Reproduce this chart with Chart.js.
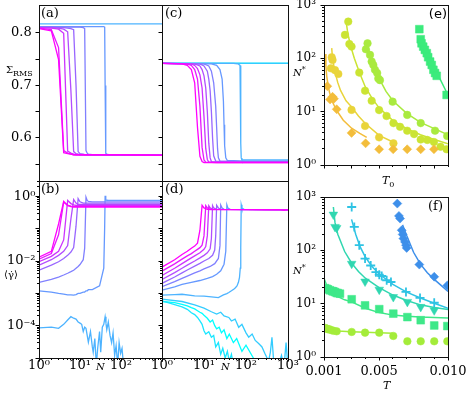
<!DOCTYPE html>
<html lang="en">
<head>
<meta charset="UTF-8">
<title>Sigma RMS / shear rate / N*</title>
<script src="https://cdn.jsdelivr.net/npm/chart.js@4.4.1/dist/chart.umd.min.js"></script>
<style>
	body { margin: 0; background: #fff; }
	#fig { position: relative; width: 468px; height: 395px; overflow: hidden; font-family: "DejaVu Serif", serif; color: #000; }
	#fig canvas { position: absolute; }
	.lbl { position: absolute; font-size: 13px; line-height: 1; white-space: nowrap; }
	.lbl sub { font-size: 8px; vertical-align: -3px; }
	.lbl sup { font-size: 8px; vertical-align: 4px; }
	.sm { font-size: 10px; }
</style>
</head>
<body>
<div id="fig">
	<canvas id="pa"></canvas>
	<canvas id="pb"></canvas>
	<canvas id="pc"></canvas>
	<canvas id="pd"></canvas>
	<canvas id="pe"></canvas>
	<canvas id="pf"></canvas>

	<div class="lbl" style="left:41px;top:6px">(a)</div>
	<div class="lbl" style="left:41px;top:182px">(b)</div>
	<div class="lbl" style="left:165px;top:6px">(c)</div>
	<div class="lbl" style="left:165px;top:182px">(d)</div>
	<div class="lbl" style="right:21px;top:7px;font-family:'DejaVu Sans',sans-serif">(e)</div>
	<div class="lbl" style="right:25px;top:199px">(f)</div>

	<div class="lbl sm" style="left:6px;top:65px">Σ<sub>RMS</sub></div>
	<div class="lbl sm" style="left:4px;top:270px">⟨γ̇⟩</div>
	<div class="lbl sm" style="left:96px;top:362px"><i>N</i></div>
	<div class="lbl sm" style="left:221px;top:362px"><i>N</i></div>
	<div class="lbl sm" style="left:293px;top:66px"><i>N</i><sup>*</sup></div>
	<div class="lbl sm" style="left:293px;top:264px"><i>N</i><sup>*</sup></div>
	<div class="lbl" style="left:382px;top:175px;font-size:11px"><i>T</i><sub>0</sub></div>
	<div class="lbl" style="left:383px;top:380px;font-size:11px"><i>T</i></div>
</div>

<script>
// ---------- (a) and (b): one N grid for the curves that jump ----------
const nAB = [1,2,3,4,5,6,7,8,9,10,12,13,14,15,16,20,30,38,40,41,42,43,45,50,100,1000];
const shadeAB = [1.0, 0.9, 0.8, 0.7, 0.6, 0.5, 0.4, 0.3];

const sigmaA = [
	[0.808,0.804,0.749,0.572,0.570,0.569,0.568,0.568,0.568,0.568,0.568,0.568,0.568,0.568,0.568,0.568,0.568,0.568,0.568,0.568,0.568,0.568,0.568,0.568,0.568,0.567],
	[0.809,0.806,0.772,0.576,0.571,0.569,0.568,0.568,0.568,0.568,0.568,0.568,0.568,0.568,0.568,0.568,0.568,0.568,0.568,0.568,0.568,0.568,0.568,0.568,0.568,0.567],
	[0.810,0.809,0.807,0.799,0.575,0.571,0.569,0.568,0.568,0.568,0.568,0.568,0.568,0.568,0.568,0.568,0.568,0.568,0.568,0.568,0.568,0.568,0.568,0.568,0.568,0.567],
	[0.810,0.810,0.809,0.807,0.802,0.690,0.574,0.570,0.569,0.568,0.568,0.568,0.568,0.568,0.568,0.568,0.568,0.568,0.568,0.568,0.568,0.568,0.568,0.568,0.568,0.567],
	[0.811,0.811,0.810,0.810,0.809,0.808,0.806,0.700,0.574,0.570,0.569,0.568,0.568,0.568,0.568,0.568,0.568,0.568,0.568,0.568,0.568,0.568,0.568,0.568,0.568,0.567],
	[0.811,0.811,0.811,0.811,0.811,0.811,0.811,0.811,0.811,0.811,0.810,0.808,0.576,0.571,0.569,0.568,0.568,0.568,0.568,0.568,0.568,0.568,0.568,0.568,0.568,0.567],
	[0.812,0.812,0.812,0.812,0.812,0.812,0.812,0.812,0.812,0.812,0.812,0.812,0.812,0.812,0.812,0.812,0.812,0.812,0.811,0.700,0.580,0.571,0.569,0.568,0.568,0.567],
	[0.817,0.817,0.817,0.817,0.817,0.817,0.817,0.817,0.817,0.817,0.817,0.817,0.817,0.817,0.817,0.817,0.817,0.817,0.817,0.817,0.817,0.817,0.817,0.817,0.817,0.817]
];

const rateB = [
	[0.0132,0.020,0.14,0.70,0.52,0.48,0.47,0.47,0.47,0.47,0.47,0.47,0.47,0.47,0.47,0.47,0.47,0.47,0.47,0.47,0.47,0.47,0.47,0.47,0.47,0.47],
	[0.0115,0.017,0.065,0.66,0.54,0.50,0.49,0.49,0.49,0.49,0.49,0.49,0.49,0.49,0.49,0.49,0.49,0.49,0.49,0.49,0.49,0.49,0.49,0.49,0.49,0.49],
	[0.0095,0.014,0.020,0.045,0.75,0.60,0.55,0.53,0.53,0.53,0.53,0.53,0.53,0.53,0.53,0.53,0.53,0.53,0.53,0.53,0.53,0.53,0.53,0.53,0.53,0.53],
	[0.0075,0.011,0.015,0.020,0.030,0.20,0.80,0.62,0.57,0.57,0.57,0.57,0.57,0.57,0.57,0.57,0.57,0.57,0.57,0.57,0.57,0.57,0.57,0.57,0.57,0.57],
	[0.0052,0.0075,0.0095,0.012,0.015,0.019,0.026,0.12,0.85,0.68,0.62,0.62,0.62,0.62,0.62,0.62,0.62,0.62,0.62,0.62,0.62,0.62,0.62,0.62,0.62,0.62],
	[0.0022,0.0027,0.0032,0.0037,0.0042,0.0047,0.0052,0.0060,0.0068,0.0078,0.011,0.025,0.95,0.75,0.70,0.68,0.68,0.68,0.68,0.68,0.68,0.68,0.68,0.68,0.68,0.68],
	[0.0012,0.0011,0.0010,0.00095,0.0009,0.0009,0.00088,0.00092,0.0010,0.0010,0.0011,0.0011,0.0012,0.0012,0.0013,0.0013,0.0017,0.006,0.12,1.05,0.85,0.78,0.76,0.75,0.75,0.75]
];
// the lightest curve of (b) never jumps, it stays noisy near 1e-4
const nB8 = [1,2,3,4,5,6,7,8,9,10,11,12,13,14,16,18,20,21,23,25,27,30,32,35,38,41,43,45,49,54,59,64,70,76,83,90,98,106,115,125];
const rateB8 = [8.5e-5,9e-5,8.3e-5,1.1e-4,1.5e-4,1.9e-4,1.7e-4,1.6e-4,1.3e-4,1.2e-4,1.1e-4,6.6e-5,9e-5,8.3e-5,3.1e-5,6.6e-5,2.2e-5,1.5e-5,4e-5,6e-6,
	2e-5,6.6e-5,1.5e-5,9e-5,1.1e-4,1.9e-4,1.2e-4,7.5e-5,1.3e-4,5e-5,3e-5,6e-5,1.2e-5,2.4e-5,6e-6,3e-5,1.4e-5,2e-5,6e-6,4e-6];

// ---------- (c) and (d): eleven curves, magenta to cyan ----------
const shadeCD = [1.0, 0.9, 0.8, 0.7, 0.6, 0.5, 0.4, 0.3, 0.2, 0.1, 0.0];
const nC = [
	[1,3,4,5,6,7,8,9,10,20,100,1000],
	[1,4,5,6,7,8,9,10,11,20,100,1000],
	[1,5,6,7,8,9,10,11,12,13,100,1000],
	[1,6,8,9,10,11,12,13,14,15,100,1000],
	[1,8,10,12,13,14,15,16,17,19,100,1000],
	[1,10,13,15,17,19,20,21,22,24,100,1000],
	[1,15,20,24,27,29,30,31,33,36,100,1000],
	[1,50,65,72,74,75,76,77,80,90,100,1000],
	[1,1000], [1,1000], [1,1000]
];
const sigmaC = [
	[0.742,0.741,0.738,0.730,0.705,0.620,0.565,0.555,0.553,0.553,0.553,0.553],
	[0.742,0.741,0.738,0.730,0.712,0.660,0.582,0.558,0.554,0.553,0.553,0.553],
	[0.742,0.741,0.738,0.732,0.720,0.695,0.640,0.580,0.559,0.554,0.554,0.554],
	[0.742,0.741,0.737,0.730,0.718,0.695,0.650,0.590,0.562,0.555,0.554,0.554],
	[0.742,0.741,0.737,0.727,0.712,0.690,0.650,0.600,0.566,0.556,0.555,0.555],
	[0.742,0.741,0.737,0.727,0.705,0.660,0.620,0.580,0.562,0.556,0.555,0.555],
	[0.742,0.741,0.738,0.730,0.712,0.670,0.625,0.585,0.562,0.557,0.556,0.556],
	[0.742,0.742,0.741,0.738,0.720,0.650,0.590,0.562,0.558,0.558,0.558,0.558],
	[0.742,0.742], [0.742,0.742], [0.742,0.742]
];
const nD = [
	[1,2,3,4,5,6,7,8,9,10,12,15,30,100,300,600,800,1000],
	[1,2,3,4,5,6,7,8,9,10,11,12,14,1000],
	[1,2,3,4,5,6,8,10,11,12,13,14,16,1000],
	[1,2,3,4,6,8,10,12,14,15,16,17,20,1000],
	[1,2,3,4,6,8,10,13,16,18,19,20,22,25,1000],
	[1,2,3,4,6,8,10,14,18,22,24,25,27,30,1000],
	[1,2,3,5,8,12,16,20,25,30,33,35,37,42,1000],
	[1,2,3,6,10,15,22,29,35,39,45,51,56,61,66,70,73,75,77,80,90,1000],
	[1,3,6,10,15,20,25,30,39,45,55,67,80,100,116,140,166,200,240,280,345,380,415,450,500,600,700,800,900,1000],
	[1,2,3,4,5,6,7,8,9,10,11,13,15,17,19,22,25,28,32,36,40,45,50,60],
	[1,2,3,4,5,6,7,8,9,10,12,14,16,18,20,23,26,30,35,40,50,60,80,100,150,200]
];
const rateD = [
	[0.0065,0.011,0.016,0.020,0.025,0.029,0.036,0.09,0.53,0.44,0.40,0.39,0.39,0.39,0.385,0.39,0.37,0.385],
	[0.0049,0.0082,0.0115,0.0145,0.017,0.020,0.023,0.026,0.031,0.06,0.52,0.44,0.40,0.39],
	[0.0036,0.0060,0.0083,0.0105,0.0125,0.0145,0.018,0.023,0.028,0.06,0.51,0.44,0.40,0.39],
	[0.0027,0.0044,0.0060,0.0075,0.010,0.0125,0.015,0.018,0.024,0.05,0.52,0.44,0.40,0.39],
	[0.00205,0.0032,0.0043,0.0053,0.0070,0.0085,0.010,0.012,0.015,0.022,0.06,0.53,0.44,0.40,0.39],
	[0.0016,0.0023,0.0029,0.0034,0.0043,0.0050,0.0057,0.0068,0.0083,0.012,0.03,0.54,0.44,0.40,0.39],
	[0.00125,0.0016,0.0019,0.0022,0.0025,0.0029,0.0033,0.0039,0.0050,0.008,0.02,0.55,0.44,0.40,0.39],
	[0.00088,0.00092,0.00094,0.00084,0.00082,0.00078,0.00074,0.0009,0.00098,0.00106,0.0012,0.00135,0.0015,0.0017,0.0022,0.0031,0.006,0.026,0.55,0.44,0.40,0.39],
	[6.6e-4,5.6e-4,4.4e-4,3.5e-4,2.7e-4,2.3e-4,2.6e-4,2.0e-4,1.8e-4,1.4e-4,1.6e-4,8.9e-5,1.1e-4,6e-5,4.4e-5,5.5e-5,3.5e-5,2.8e-5,2.2e-5,1.4e-5,8e-6,1.5e-5,4.4e-5,1e-5,8e-6,6e-6,1.2e-5,5e-6,3e-5,5e-6],
	[5.9e-4,4.5e-4,3.8e-4,3.2e-4,2.5e-4,2.2e-4,1.8e-4,1.4e-4,1.1e-4,7e-5,5.5e-5,6.5e-5,4.4e-5,5e-5,2.2e-5,3e-5,1.3e-5,2e-5,1e-5,1.6e-5,8e-6,1.3e-5,6e-6,5e-6],
	[5.6e-4,5.2e-4,4.6e-4,4.1e-4,3.6e-4,3.3e-4,2.9e-4,2.6e-4,2.4e-4,2.1e-4,1.7e-4,1.3e-4,1.5e-4,1.0e-4,8e-5,9e-5,6e-5,7.5e-5,4e-5,5.5e-5,3e-5,4e-5,1.6e-5,2.5e-5,1e-5,5e-6]
];

// ---------- (e): N* against T0 ----------
const eDiaT0 = [0.012,0.022,0.031,0.036,0.046,0.100,0.151,0.200,0.251,0.302,0.351,0.399];
const eDiaN  = [30,17,19,17.5,11.1,4.0,2.55,1.97,1.97,1.97,1.97,1.97];
const eDiaFitT0 = [0.004,0.007,0.01,0.015,0.02,0.03,0.046,0.07,0.1,0.13,0.155];
const eDiaFitN  = [120,70,46,31,23,15.5,10.5,6.9,4.9,3.9,3.3];
const eYelT0 = [0.028,0.031,0.025,0.040,0.052,0.100,0.149,0.200,0.252];
const eYelN  = [105,93,65,60,51,10.8,5.4,3.3,2.55];
const eYelFitT0 = [0.028,0.03,0.035,0.04,0.05,0.06,0.08,0.1,0.125,0.15,0.2,0.25];
const eYelFitN  = [155,115,75,55,35,25,16,12.3,8.3,6.0,3.6,2.7];
const eLimT0 = [0.088,0.076,0.092,0.100,0.128,0.149,0.173,0.200,0.227,0.252,0.276,0.302,0.327,0.351,0.375,0.399,0.423,0.445];
const eLimN  = [488,275,186,166,54,24.7,16,10.7,8.3,6.1,5.2,4.4,3.8,3.0,2.95,2.7,2.2,1.97];
const eLimFitT0 = [0.08,0.085,0.09,0.1,0.11,0.13,0.15,0.175,0.2,0.25,0.3,0.35,0.4,0.45];
const eLimFitN  = [500,330,240,150,100,52,29,17.5,11.8,6.8,4.8,3.7,3.0,2.5];
const eGrnT0 = [0.158,0.152,0.167,0.173,0.179,0.185,0.193,0.197,0.203,0.249,0.302,0.351,0.403,0.447];
const eGrnN  = [191,148,116,87,75,61,53,42,39,15.4,8.7,6.1,4.4,3.5];
const eGrnFitT0 = [0.155,0.16,0.17,0.18,0.2,0.225,0.25,0.3,0.35,0.4,0.45];
const eGrnFitN  = [210,160,105,75,42,24,16,9.3,6.3,4.8,3.7];
const eSqT0 = [0.346,0.351,0.354,0.360,0.366,0.373,0.378,0.385,0.391,0.397,0.403,0.409,0.445];
const eSqN  = [352,228,191,166,144,125,105,87,75,61,53,47,20.6];
const eSqFitT0 = [0.348,0.36,0.37,0.38,0.39,0.4,0.42,0.44,0.45];
const eSqFitN  = [260,175,135,105,82,65,42,26,20];

// ---------- (f): N* against T ----------
const fDiaT = [0.00632,0.00644,0.00652,0.00664,0.00671,0.00676,0.00688,0.00695,0.0070,0.00792,0.0090,0.00995];
const fDiaN = [752,442,394,238,199,166,144,125,111,54,32,22];
const fDiaFitT = [0.0067,0.0068,0.007,0.0075,0.008,0.0085,0.009,0.0095,0.01];
const fDiaFitN = [300,260,190,92,55,38,28.5,22,17];
const fPlusT = [0.00301,0.0032,0.00356,0.00398,0.00439,0.00477,0.00501,0.00519,0.00555,0.00586,0.00695,0.00797,0.009];
const fPlusN = [650,275,125,70,52,39,35,33,27.5,25.5,16.6,12.8,10.4];
const fPlusFitT = [0.003,0.0033,0.0036,0.004,0.0045,0.005,0.006,0.007,0.008,0.009,0.01];
const fPlusFitN = [380,200,120,75,49,36,23,16.5,12.8,10.2,8.2];
const fTriT = [0.00168,0.0018,0.00192,0.00301,0.00398,0.00501,0.00603,0.00705,0.00802,0.009];
const fTriN = [468,275,263,56,26,18.3,13.3,10.8,8.7,7.5];
const fTriFitT = [0.00168,0.0018,0.002,0.0025,0.003,0.0035,0.004,0.005,0.006,0.007,0.008,0.009,0.01];
const fTriFitN = [650,330,200,95,58,40,30,20,14.5,11.5,9.5,8.5,7.8];
const fSqT = [0.00108,0.0012,0.0013,0.00144,0.0016,0.00168,0.0018,0.00192,0.002,0.00216,0.00301,0.00398,0.00501,0.00603,0.00705,0.00802,0.009,0.00995];
const fSqN = [19.5,19,18.5,17.8,17.2,17,16.5,15.9,15.8,15.4,12.1,9.3,7.9,6.5,5.6,4.9,3.9,3.8];
const fSqFitT = [0.001,0.0012,0.0015,0.002,0.0025,0.003,0.004,0.005,0.006,0.007,0.008,0.009,0.01];
const fSqFitN = [30,22,17,13.5,11.8,10.8,8.2,6.8,6.1,5.8,5.6,5.5,5.4];
const fPentT = [0.0011,0.0012,0.0013,0.0014,0.00156,0.0017,0.00192,0.00301,0.00398,0.00501,0.00603,0.00705,0.00802,0.009,0.00995];
const fPentN = [3.5,3.4,3.3,3.3,3.17,3.1,3.03,2.95,2.86,2.86,2.48,1.97,1.97,1.97,1.97];
const fPentFitT = [0.001,0.0015,0.002,0.003,0.004,0.005,0.006];
const fPentFitN = [3.7,3.25,3.08,2.97,2.9,2.85,2.8];

// ---------- helpers ----------
const cool = r => `rgb(${Math.round(255 * r)},${Math.round(255 * (1 - r))},255)`;
const pts = (xs, ys) => xs.map((x, i) => ({ x: x, y: ys[i] }));

function curve(xs, ys, color, w) {
	return { data: pts(xs, ys), showLine: true, borderColor: color, borderWidth: w || 1.3,
		pointRadius: 0, tension: 0, clip: 0 };
}
function marks(xs, ys, color, style, r, rot) {
	const hollow = style === 'cross';
	return { data: pts(xs, ys), showLine: false, pointStyle: style, pointRadius: r,
		pointRotation: rot || 0, backgroundColor: color, borderColor: color,
		pointBorderWidth: hollow ? 1.8 : 0.5, clip: 0 };
}

const serif13 = { family: 'DejaVu Serif', size: 13, lineHeight: 1 };
const serif12 = { family: 'DejaVu Serif', size: 12, lineHeight: 1 };
const SUP = { '-4': '10⁻⁴', '-2': '10⁻²', '0': '10⁰', '1': '10¹', '2': '10²', '3': '10³' };

function logTicks(lo, hi) {
	const out = [];
	for (let e = Math.floor(Math.log10(lo)); e <= Math.ceil(Math.log10(hi)); e++) {
		for (let m = 1; m < 10; m++) {
			const v = Number((m * Math.pow(10, e)).toPrecision(3));
			if (v >= lo * 0.999 && v <= hi * 1.001) out.push({ value: v, major: m === 1 });
		}
	}
	return out;
}

function tickGrid(side) {
	// minor ticks are drawn shorter with a dash pattern
	const minorDash = side === 'left' ? [0, 1.5, 2, 40] : [2, 40];
	return { drawOnChartArea: false, drawTicks: true, tickLength: 3.5, tickColor: '#000', tickWidth: 1,
		tickBorderDash: c => (c.tick && c.tick.major === false) ? minorDash : [] };
}

function logAxis(lo, hi, shown, font, pad, side) {
	return {
		type: 'logarithmic', min: lo, max: hi,
		afterBuildTicks: s => { s.ticks = logTicks(lo, hi); },
		border: { display: false },
		grid: tickGrid(side),
		ticks: { autoSkip: false, maxRotation: 0, minRotation: 0, padding: pad, font: font, color: '#000',
			callback: (v, i, t) => {
				if (!t[i].major) return '';
				const e = String(Math.round(Math.log10(v)));
				return shown.indexOf(e) >= 0 ? SUP[e] : '';
			} }
	};
}

function linAxis(lo, hi, tickVals, majors, labelFn, font, pad, side) {
	return {
		type: 'linear', min: lo, max: hi,
		afterBuildTicks: s => { s.ticks = tickVals.map(v => ({ value: v, major: majors(v) })); },
		border: { display: false },
		grid: tickGrid(side),
		ticks: { autoSkip: false, maxRotation: 0, minRotation: 0, padding: pad, font: font, color: '#000',
			callback: v => labelFn(v) }
	};
}

const hiddenLogX = {
	type: 'logarithmic', min: 1, max: 1000,
	border: { display: false }, grid: { display: false }, ticks: { display: false }
};

const frame = {
	id: 'frame',
	afterDatasetsDraw(chart) {
		const a = chart.chartArea, ctx = chart.ctx;
		ctx.save();
		ctx.strokeStyle = '#111';
		ctx.lineWidth = 1;
		ctx.strokeRect(a.left + 0.5, a.top + 0.5, a.right - a.left, a.bottom - a.top);
		ctx.restore();
	}
};

const M = { l: 42, t: 8, r: 24, b: 32 };
function panel(id, box, xScale, yScale, datasets) {
	const cv = document.getElementById(id);
	const w = box[2] - box[0], h = box[3] - box[1];
	cv.width = w + M.l + M.r;
	cv.height = h + M.t + M.b;
	cv.style.left = (box[0] - M.l) + 'px';
	cv.style.top = (box[1] - M.t) + 'px';
	xScale.afterFit = s => { s.height = M.b; s.paddingLeft = 0; s.paddingRight = 0; };
	yScale.afterFit = s => { s.width = M.l; s.paddingTop = 0; s.paddingBottom = 0; };
	return new Chart(cv, {
		type: 'scatter',
		data: { datasets: datasets },
		options: {
			responsive: false, animation: false, events: [],
			layout: { padding: { left: 0, top: M.t, right: M.r, bottom: 0 } },
			plugins: { legend: { display: false }, tooltip: { enabled: false } },
			scales: { x: xScale, y: yScale }
		},
		plugins: [frame]
	});
}

// ---------- build panels ----------
const sigTicks = [0.55, 0.6, 0.65, 0.7, 0.75, 0.8];
const sigLabel = v => [0.6, 0.7, 0.8].some(m => Math.abs(m - v) < 1e-9) ? v.toFixed(1) : '';

// (a)
panel('pa', [39, 5, 162, 181], Object.assign({}, hiddenLogX),
	linAxis(0.518, 0.853, sigTicks, () => true, sigLabel, serif13, 3.8, 'left'),
	sigmaA.map((s, i) => curve(nAB, s, cool(shadeAB[i]))));

// (b)
const setsB = rateB.map((s, i) => curve(nAB, s, cool(shadeAB[i])));
setsB.push(curve(nB8, rateB8, cool(shadeAB[7])));
panel('pb', [39, 181, 162, 358],
	logAxis(1, 1000, ['0', '1', '2'], serif13, -2, 'bottom'),
	logAxis(1e-5, 3, ['-4', '-2', '0'], serif13, 0, 'left'),
	setsB);

// (c)
panel('pc', [162, 5, 288, 181], Object.assign({}, hiddenLogX),
	linAxis(0.518, 0.853, sigTicks, () => true, () => '', serif13, 3.8, 'left'),
	sigmaC.map((s, i) => curve(nC[i], s, cool(shadeCD[i]))));

// (d)
panel('pd', [162, 181, 288, 358],
	logAxis(1, 1000, ['0', '1', '2', '3'], serif13, -2, 'bottom'),
	logAxis(1e-5, 3, [], serif13, 0, 'left'),
	rateD.map((s, i) => curve(nD[i], s, cool(shadeCD[i]))));

// (e)
const c_dia = '#f3bd3b', c_yel = '#e9d43a', c_lim = '#cbe433', c_grn = '#a9ea3f', c_sq = '#3beb7c';
panel('pe', [324, 5, 448, 165],
	linAxis(0, 0.45, [0, 0.05, 0.1, 0.15, 0.2, 0.25, 0.3, 0.35, 0.4, 0.45],
		v => Math.abs(v * 10 - Math.round(v * 10)) < 1e-9, () => '', serif12, 4, 'bottom'),
	logAxis(1, 1000, ['0', '1', '2', '3'], serif12, 4.5, 'left'),
	[
		marks(eDiaT0, eDiaN, c_dia, 'rectRot', 4.5),
		marks(eYelT0, eYelN, c_yel, 'circle', 3.8),
		marks(eLimT0, eLimN, c_lim, 'circle', 3.8),
		marks(eGrnT0, eGrnN, c_grn, 'circle', 3.8),
		marks(eSqT0, eSqN, c_sq, 'rect', 5.5),
		curve(eDiaFitT0, eDiaFitN, c_dia, 1.5),
		curve(eYelFitT0, eYelFitN, c_yel, 1.5),
		curve(eLimFitT0, eLimFitN, c_lim, 1.5),
		curve(eGrnFitT0, eGrnFitN, c_grn, 1.5),
		curve(eSqFitT0, eSqFitN, c_sq, 1.5)
	]);

// (f)
const c_blu = '#3d8fea', c_pls = '#2ec3e4', c_tri = '#30d7b0', c_fsq = '#3ee889', c_pen = '#a4ec3a';
const fTicks = [0.001, 0.002, 0.003, 0.004, 0.005, 0.006, 0.007, 0.008, 0.009, 0.010];
const fShown = v => [0.001, 0.005, 0.010].some(m => Math.abs(m - v) < 1e-9);
panel('pf', [324, 197, 448, 357],
	linAxis(0.001, 0.010, fTicks, fShown, v => fShown(v) ? v.toFixed(3) : '', serif13, 4.5, 'bottom'),
	logAxis(1, 1000, ['0', '1', '2', '3'], serif12, 4.5, 'left'),
	[
		marks(fDiaT, fDiaN, c_blu, 'rectRot', 4.5),
		marks(fPlusT, fPlusN, c_pls, 'cross', 4.5),
		marks(fTriT, fTriN, c_tri, 'triangle', 5, 180),
		marks(fSqT, fSqN, c_fsq, 'rect', 5.5),
		marks(fPentT, fPentN, c_pen, 'circle', 3.8),
		curve(fDiaFitT, fDiaFitN, c_blu, 1.5),
		curve(fPlusFitT, fPlusFitN, c_pls, 1.5),
		curve(fTriFitT, fTriFitN, c_tri, 1.5),
		curve(fSqFitT, fSqFitN, c_fsq, 1.5),
		curve(fPentFitT, fPentFitN, c_pen, 1.5)
	]);
</script>
</body>
</html>
